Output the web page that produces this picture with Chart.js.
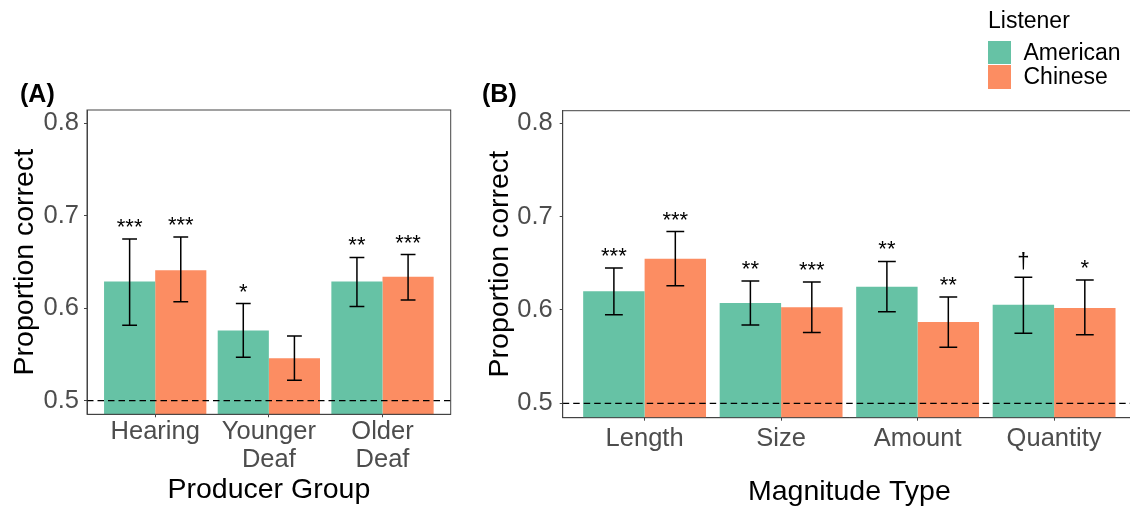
<!DOCTYPE html>
<html>
<head>
<meta charset="utf-8">
<script src="https://cdn.jsdelivr.net/npm/chart.js@4/dist/chart.umd.min.js"></script>
<style>
html,body{margin:0;padding:0;background:#fff;width:1130px;height:509px;overflow:hidden;position:relative;font-family:"Liberation Sans",Arial,sans-serif;}
#wrapA{position:absolute;left:0;top:0;width:460px;height:509px;}
#wrapB{position:absolute;left:470px;top:0;width:670px;height:509px;}
.panel{position:absolute;font-weight:bold;font-size:25px;color:#000;}
#legend{position:absolute;left:988px;top:6px;color:#000;}
#legend .ttl{font-size:23px;height:34px;line-height:28px;}
#legend .row{height:24.5px;display:flex;align-items:center;}
#legend .sw{width:22.5px;height:23.5px;margin-right:13px;}
#legend .lb{font-size:23px;}
</style>
</head>
<body>
<div id="wrapA"><canvas id="chartA"></canvas></div>
<div id="wrapB"><canvas id="chartB"></canvas></div>
<div class="panel" style="left:20px;top:79px">(A)</div>
<div class="panel" style="left:482px;top:79px">(B)</div>
<div id="legend"></div>
<script>
// colours / legend
const listeners=['American','Chinese'];
const colors=['#66c2a5','#fc8d62'];
const yTicks=[0.5,0.6,0.7,0.8];

// panel A: producer group
const groupsA=['Hearing',['Younger','Deaf'],['Older','Deaf']];
const amA=[0.629,0.576,0.629];
const chA=[0.641,0.546,0.634];
const amA_lo=[0.5815,0.547,0.602];
const amA_hi=[0.675,0.605,0.655];
const chA_lo=[0.607,0.522,0.609];
const chA_hi=[0.677,0.570,0.658];
const sigA_am=['***','*','**'];
const sigA_ch=['***','','***'];

// panel B: magnitude type
const typesB=['Length','Size','Amount','Quantity'];
const amB=[0.620,0.6075,0.625,0.6055];
const chB=[0.655,0.603,0.587,0.602];
const amB_lo=[0.595,0.584,0.598,0.575];
const amB_hi=[0.645,0.631,0.652,0.635];
const chB_lo=[0.626,0.576,0.560,0.5735];
const chB_hi=[0.684,0.630,0.614,0.632];
const sigB_am=['***','**','**','\u2020'];
const sigB_ch=['***','***','**','*'];

const FONT='"Liberation Sans", Arial, sans-serif';

// legend
let lg='<div class="ttl">Listener</div>';
listeners.forEach((l,i)=>{lg+='<div class="row"><div class="sw" style="background:'+colors[i]+'"></div><div class="lb">'+l+'</div></div>';});
document.getElementById('legend').innerHTML=lg;

const errPlugin={
  id:'errbars',
  afterDatasetsDraw(chart){
    const {ctx,chartArea:a,scales:{y}}=chart;
    ctx.save();
    // chance line
    const y5=y.getPixelForValue(0.5);
    ctx.beginPath();
    ctx.setLineDash([6.5,4]);
    ctx.lineWidth=1.3;
    ctx.strokeStyle='#000';
    ctx.moveTo(a.left,y5);ctx.lineTo(a.right,y5);ctx.stroke();
    ctx.setLineDash([]);
    // error bars + stars
    ctx.lineWidth=1.5;
    ctx.fillStyle='#000';
    ctx.font='22px '+FONT;
    ctx.textAlign='center';
    ctx.textBaseline='alphabetic';
    chart.data.datasets.forEach((ds,di)=>{
      chart.getDatasetMeta(di).data.forEach((bar,i)=>{
        const hi=y.getPixelForValue(ds.hi[i]);
        const lo=y.getPixelForValue(ds.lo[i]);
        const w=bar.width*0.145;
        ctx.beginPath();
        ctx.moveTo(bar.x,hi);ctx.lineTo(bar.x,lo);
        ctx.moveTo(bar.x-w,hi);ctx.lineTo(bar.x+w,hi);
        ctx.moveTo(bar.x-w,lo);ctx.lineTo(bar.x+w,lo);
        ctx.stroke();
        if(ds.sig[i]) ctx.fillText(ds.sig[i],bar.x,hi-(ds.sig[i]=='\u2020'?9:5));
      });
    });
    // panel border
    ctx.strokeStyle='#444';
    ctx.lineWidth=1;
    ctx.strokeRect(a.left,a.top,a.right-a.left,a.bottom-a.top);
    ctx.restore();
  }
};

function makeChart(id,cats,am,ch,amLo,amHi,chLo,chHi,sigAm,sigCh,ymin,ymax,lay){
  const toXY=v=>v.map((val,i)=>({x:i+1,y:val}));
  return new Chart(document.getElementById(id),{
    type:'bar',
    data:{datasets:[
      {label:listeners[0],data:toXY(am),backgroundColor:colors[0],lo:amLo,hi:amHi,sig:sigAm},
      {label:listeners[1],data:toXY(ch),backgroundColor:colors[1],lo:chLo,hi:chHi,sig:sigCh}
    ]},
    options:{
      responsive:true,maintainAspectRatio:false,animation:false,
      categoryPercentage:0.9,barPercentage:1,
      layout:{padding:{top:lay.top,right:lay.right,left:0,bottom:0}},
      plugins:{legend:{display:false},tooltip:{enabled:false}},
      scales:{
        x:{
          type:'linear',min:0.4,max:cats.length+0.6,offset:false,
          afterBuildTicks:s=>{s.ticks=cats.map((c,i)=>({value:i+1}));},
          afterFit:s=>{s.height=lay.xh;},
          ticks:{callback:v=>cats[v-1],color:'#4d4d4d',font:{family:FONT,size:25.5,lineHeight:1.08},padding:lay.xpad,maxRotation:0,autoSkip:false},
          grid:{offset:false,drawOnChartArea:false,drawTicks:true,tickLength:3,color:'#444'},
          border:{display:true,color:'#444'},
          title:{display:true,text:lay.xtitle,color:'#000',font:{family:FONT,size:28.5},padding:{top:0,bottom:lay.xtpad}}
        },
        y:{
          min:ymin,max:ymax,
          afterBuildTicks:s=>{s.ticks=yTicks.map(v=>({value:v}));},
          afterFit:s=>{s.width=lay.yw;},
          ticks:{callback:v=>v.toFixed(1),color:'#4d4d4d',font:{family:FONT,size:25.5},padding:lay.ypad},
          grid:{drawOnChartArea:false,drawTicks:true,tickLength:3,color:'#444'},
          border:{display:true,color:'#444'},
          title:{display:true,text:'Proportion correct',color:'#000',font:{family:FONT,size:28.5},padding:{top:lay.ytpad,bottom:0}}
        }
      }
    },
    plugins:[errPlugin]
  });
}

makeChart('chartA',groupsA,amA,chA,amA_lo,amA_hi,chA_lo,chA_hi,sigA_am,sigA_ch,0.4853,0.8144,
  {top:110,right:9.3,xh:94.7,yw:87,xpad:1,ypad:5,ytpad:8,xtpad:2,xtitle:'Producer Group'});
makeChart('chartB',typesB,amB,chB,amB_lo,amB_hi,chB_lo,chB_hi,sigB_am,sigB_ch,0.4846,0.8135,
  {top:110.7,right:4,xh:91.3,yw:92.7,xpad:4,ypad:7,ytpad:13.5,xtpad:0,xtitle:'Magnitude Type'});
</script>
</body>
</html>
